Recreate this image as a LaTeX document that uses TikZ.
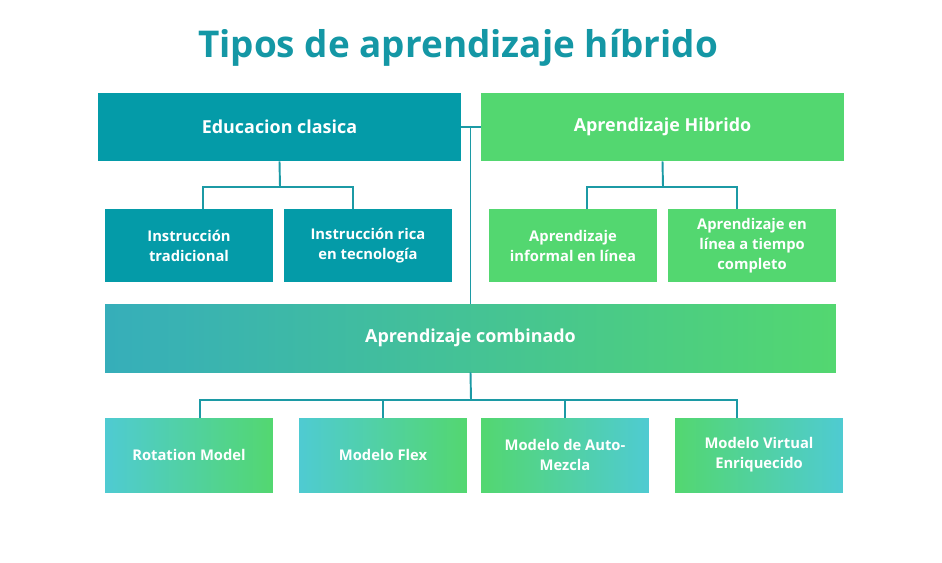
\documentclass[tikz,border=0pt]{standalone}
\usepackage{fontspec}
\setmainfont{Open Sans}
\usetikzlibrary{positioning}

\definecolor{tealdark}{HTML}{049BA8}
\definecolor{tealtitle}{HTML}{1497A5}
\definecolor{linkcol}{HTML}{1C9AA5}
\definecolor{greenbox}{HTML}{53D770}
\definecolor{combleft}{HTML}{36AEBA}
\definecolor{cyanleaf}{HTML}{4FCBD2}

\begin{document}
\begin{tikzpicture}[
  x=0.02cm, y=-0.02cm,
  mainbox/.style={rectangle, minimum width=7.26cm, minimum height=1.36cm, inner sep=0pt,
    text=white, font=\bfseries\fontsize{10.2}{12}\selectfont, align=center},
  subbox/.style={rectangle, minimum width=3.36cm, minimum height=1.46cm, inner sep=0pt,
    text=white, font=\bfseries\fontsize{8.4}{11.4}\selectfont, align=center},
  leafbox/.style={subbox, minimum height=1.48cm},
  link/.style={draw=linkcol, line width=1.1pt}
]
  \useasboundingbox (0,0) rectangle (942,562);

  % Titulo
  \node[text=tealtitle, font=\bfseries\fontsize{21}{24}\selectfont] (title) at (458,48) {Tipos de aprendizaje híbrido};

  % Primer nivel
  \node[mainbox, fill=tealdark] (edu) at (279.5,127) {Educacion clasica};
  \node[mainbox, fill=greenbox] (hib) at (662.5,127) {Aprendizaje Hibrido};

  % Segundo nivel
  \node[subbox, fill=tealdark] (trad) at (189,245.5) {Instrucción\\tradicional};
  \node[subbox, fill=tealdark] (rica) at (368,245.5) {Instrucción rica\\en tecnología};
  \node[subbox, fill=greenbox] (informal) at (573,245.5) {Aprendizaje\\informal en línea};
  \node[subbox, fill=greenbox] (linea) at (752,245.5) {Aprendizaje en\\línea a tiempo\\completo};

  % Combinado
  \node[mainbox, minimum width=14.62cm, left color=combleft, right color=greenbox] (comb) at (470.5,338) {Aprendizaje combinado};

  % Modelos
  \node[leafbox, left color=cyanleaf, right color=greenbox] (rot) at (189,455) {Rotation Model};
  \node[leafbox, left color=cyanleaf, right color=greenbox] (flex) at (383,455) {Modelo Flex};
  \node[leafbox, left color=greenbox, right color=cyanleaf] (auto) at (565,455) {Modelo de Auto-\\Mezcla};
  \node[leafbox, left color=greenbox, right color=cyanleaf] (virt) at (759,455) {Modelo Virtual\\Enriquecido};

  % Conectores
  \coordinate (eduj) at (280,187);
  \coordinate (hibj) at (663,187);
  \coordinate (combj) at (471,400);
  \draw[link] (edu.east) -- (hib.west);
  \draw[link] (comb.north) -- (comb.north |- edu.east);
  \draw[link] (edu.south) -- (eduj);
  \draw[link] ([xshift=0.28cm]trad.north) |- (eduj) -| ([xshift=-0.3cm]rica.north);
  \draw[link] (hib.south) -- (hibj);
  \draw[link] ([xshift=0.28cm]informal.north) |- (hibj) -| ([xshift=-0.3cm]linea.north);
  \draw[link] (comb.south) -- (combj);
  \draw[link] ([xshift=0.22cm]rot.north) |- (combj) -| ([xshift=-0.44cm]virt.north);
  \draw[link] (flex.north) -- (flex.north |- combj);
  \draw[link] (auto.north) -- (auto.north |- combj);
\end{tikzpicture}
\end{document}
